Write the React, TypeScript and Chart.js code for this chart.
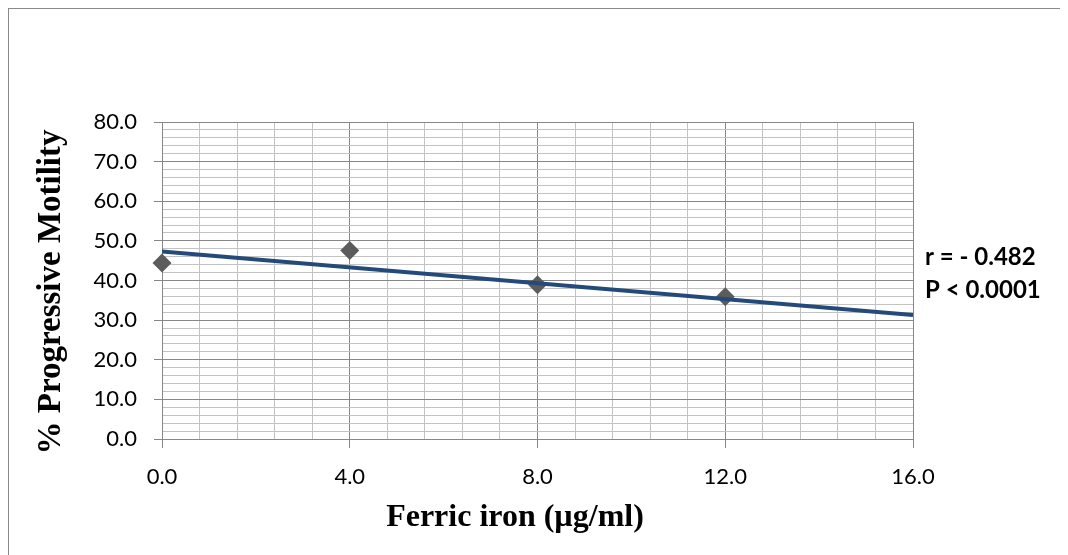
import React, { useEffect, useRef } from "react";
import { Chart, registerables } from "chart.js";

Chart.register(...registerables);

// Data
const ironDose = [0, 4, 8, 12];
const motility = [44.4, 47.6, 38.9, 35.9];
const trendX = [0, 16];
const trendY = [47.3, 31.3];

// Axes
const xMajorTicks = [0, 4, 8, 12, 16];
const xMinorStep = 0.8;
const yMajorTicks = [0, 10, 20, 30, 40, 50, 60, 70, 80];
const yMinorStep = 2;

const annotationLines = ["r = - 0.482", "P < 0.0001"];
const xTitle = "Ferric iron (µg/ml)";
const yTitle = "% Progressive Motility";

const MAJOR = "#878787";
const MINOR = "#c3c3c3";

function buildTicks(min: number, max: number, step: number) {
  const n = Math.round((max - min) / step);
  const out: { value: number }[] = [];
  for (let i = 0; i <= n; i++) out.push({ value: +(min + i * step).toFixed(4) });
  return out;
}

function isMajor(v: number, majors: number[]) {
  return majors.some((m) => Math.abs(m - v) < 1e-6);
}

const textPlugin = {
  id: "texts",
  afterDraw(chart: any) {
    const { ctx, chartArea } = chart;
    ctx.save();
    ctx.fillStyle = "#000";

    // correlation annotation
    ctx.font = "bold 24px Lato";
    ctx.textAlign = "left";
    ctx.textBaseline = "middle";
    const ax = chartArea.right + 12;
    ctx.fillText(annotationLines[0], ax, 248);
    ctx.fillText(annotationLines[1], ax, 281);

    // x axis title
    ctx.font = "bold 32px 'Liberation Serif'";
    ctx.textAlign = "center";
    ctx.textBaseline = "alphabetic";
    ctx.fillText(xTitle, 506, 517);

    // y axis title
    ctx.font = "bold 33px 'Liberation Serif'";
    ctx.translate(42, 283);
    ctx.rotate(-Math.PI / 2);
    ctx.textAlign = "center";
    ctx.textBaseline = "middle";
    ctx.fillText(yTitle, 0, 0);
    ctx.restore();
  },
};

export default function App() {
  const ref = useRef<HTMLCanvasElement | null>(null);
  useEffect(() => {
    document.body.style.overflow = "hidden";
    const canvas = ref.current!;
    const chart = new Chart(canvas, {
      type: "scatter",
      data: {
        datasets: [
          {
            type: "line",
            data: trendX.map((x, i) => ({ x, y: trendY[i] })),
            borderColor: "#24497B",
            borderWidth: 4,
            pointRadius: 0,
            fill: false,
            order: 1,
          } as any,
          {
            type: "scatter",
            data: ironDose.map((x, i) => ({ x, y: motility[i] })),
            pointStyle: "rectRot",
            pointRadius: 9.5,
            backgroundColor: "#5c5c5c",
            borderColor: "#5c5c5c",
            borderWidth: 0,
            clip: false,
            order: 2,
          },
        ],
      },
      options: {
        responsive: false,
        animation: false,
        devicePixelRatio: 1,
        layout: { padding: { left: 0, right: 155, top: 113, bottom: 0 } },
        plugins: { legend: { display: false }, tooltip: { enabled: false } },
        scales: {
          x: {
            type: "linear",
            min: 0,
            max: 16,
            afterBuildTicks: (s: any) => {
              s.ticks = buildTicks(0, 16, xMinorStep);
            },
            afterFit: (s: any) => {
              s.height = 116;
            },
            ticks: {
              autoSkip: false,
              maxRotation: 0,
              padding: 16,
              color: "#000",
              font: { family: "Lato", size: 22 },
              callback: (v: any) => (isMajor(Number(v), xMajorTicks) ? Number(v).toFixed(1) : ""),
            },
            grid: {
              color: (c: any) => (isMajor(c.tick?.value, xMajorTicks) ? MAJOR : MINOR),
              tickColor: (c: any) => (isMajor(c.tick?.value, xMajorTicks) ? MAJOR : "rgba(0,0,0,0)"),
              tickLength: 9,
              lineWidth: 1,
            },
            border: { color: MAJOR, width: 1 },
            title: { display: false },
          },
          y: {
            type: "linear",
            min: 0,
            max: 80,
            afterBuildTicks: (s: any) => {
              s.ticks = buildTicks(0, 80, yMinorStep);
            },
            afterFit: (s: any) => {
              s.width = 153;
            },
            ticks: {
              autoSkip: false,
              padding: 17,
              color: "#000",
              font: { family: "Lato", size: 22 },
              callback: (v: any) => (isMajor(Number(v), yMajorTicks) ? Number(v).toFixed(1) : ""),
            },
            grid: {
              color: (c: any) => (isMajor(c.tick?.value, yMajorTicks) ? MAJOR : MINOR),
              tickColor: (c: any) => (isMajor(c.tick?.value, yMajorTicks) ? MAJOR : "rgba(0,0,0,0)"),
              tickLength: 8,
              lineWidth: 1,
            },
            border: { color: MAJOR, width: 1 },
            title: { display: false },
          },
        },
      },
      plugins: [textPlugin],
    } as any);
    return () => chart.destroy();
  }, []);

  return (
    <div
      style={{
        width: 1059,
        height: 546,
        borderLeft: "1px solid #8a8a8a",
        borderTop: "1px solid #8a8a8a",
        background: "#fff",
      }}
    >
      <canvas ref={ref} width={1059} height={546} style={{ display: "block", width: 1059, height: 546 }} />
    </div>
  );
}
